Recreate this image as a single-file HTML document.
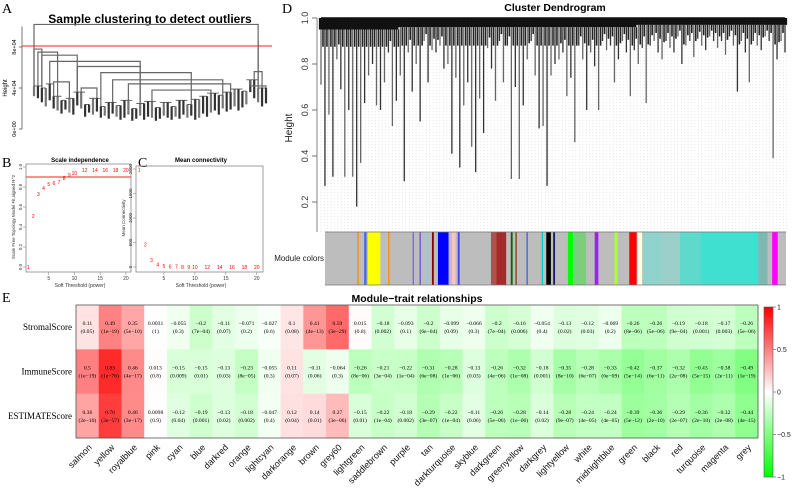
<!DOCTYPE html>
<html><head><meta charset="utf-8"><style>
html,body{margin:0;padding:0;background:#fff;}
svg{display:block;font-family:"Liberation Sans",sans-serif;}
</style></head><body>
<svg id="fig" width="794" height="491" viewBox="0 0 794 491" xmlns="http://www.w3.org/2000/svg">
<defs>
<linearGradient id="cbar" x1="0" y1="0" x2="0" y2="1">
<stop offset="0" stop-color="#ff0000"/><stop offset="0.5" stop-color="#ffffff"/><stop offset="1" stop-color="#00ff00"/>
</linearGradient>
<pattern id="dots" width="3.4" height="3" patternUnits="userSpaceOnUse"><rect x="1" y="0" width="0.6" height="1.2" fill="#d8d8d8"/></pattern>
</defs>
<g id="pA"></g>
<g id="pB"></g>
<g id="pC"></g>
<g id="pD"></g>
<g id="pE"></g>
</svg>
<script>
// ---------- data ----------
const aLeafBottom = [3.2,3.0,2.6,2.2,2.8,2.0,1.8,1.5,1.9,1.6,1.4,2.3,2.0,1.2,1.6,1.4,1.7,1.1,1.3,1.0,1.5,1.2,0.9,1.1,1.4,0.8,1.0,1.3,0.9,1.2,1.1,0.8,1.0,1.3,1.1,0.9,1.2,1.0,1.4,1.1,1.3,0.9,1.1,1.5,1.2,1.6,1.8,1.4,2.0,1.7,1.9,2.2,1.8,2.1,2.4,3.6,3.0,2.6,2.2,2.5];
const aLeafTop = [4.2,4.2,4.0,4.0,4.4,3.2,3.2,2.8,2.8,3.0,3.0,3.6,3.6,2.4,2.4,3.0,3.0,2.2,2.2,2.6,2.6,2.3,2.3,2.8,2.8,2.0,2.0,2.5,2.5,2.7,2.7,2.1,2.1,2.6,2.6,2.2,2.2,2.8,2.8,2.4,2.4,2.9,2.9,3.2,3.2,3.5,3.5,3.3,3.3,3.6,3.6,3.9,3.9,3.7,3.7,4.8,4.8,4.0,4.0,4.0];
const aMerges = [[10.2,0,57],[7.8,0,2],[7.5,1,6],[7.2,2,11],[6.6,4,27],[6.1,11,27],[5.5,17,40],[4.8,20,48],[4.4,24,50],[3.8,30,45],[8.6,57,57],[5.6,56,58],[4.2,55,59],[4.6,5,9],[4.0,12,16]];
const aCut = 8.1;
const bPowers = [1,2,3,4,5,6,7,8,9,10,12,14,16,18,20];
const bR2 = [0.0,0.51,0.73,0.79,0.83,0.84,0.85,0.89,0.92,0.94,0.97,0.97,0.97,0.97,0.97];
const bCut = 0.9;
const cK = [1990,460,140,50,20,8,6,5,4,4,3,3,3,3,3];
const dLeafBottom = [0.71,0.27,0.58,0.31,0.82,0.69,0.31,0.6,0.31,0.18,0.37,0.63,0.75,0.8,0.62,0.6,0.72,0.85,0.53,0.64,
0.75,0.29,0.85,0.68,0.8,0.55,0.9,0.72,0.86,0.85,0.88,0.78,0.8,0.41,0.74,0.35,0.62,0.72,0.44,0.33,
0.65,0.5,0.87,0.78,0.64,0.9,0.72,0.88,0.3,0.7,0.3,0.62,0.82,0.9,0.75,0.52,0.53,0.27,0.75,0.8,
0.82,0.85,0.66,0.74,0.46,0.88,0.82,0.6,0.85,0.79,0.6,0.9,0.86,0.88,0.72,0.82,0.9,0.85,0.66,0.86,
0.8,0.87,0.63,0.88,0.9,0.85,0.82,0.9,0.87,0.85,0.92,0.8,0.88,0.9,0.83,0.91,0.88,0.86,0.92,0.9,
0.87,0.9,0.84,0.92,0.88,0.68,0.9,0.85,0.72,0.9,0.88,0.86,0.92,0.9,0.39,0.82,0.9,0.85];
const dGroupTop = [0.95,0.96,0.96,0.96,0.97,0.97];
const dModules = [[0.07,0.073,"#ff8c00"],[0.085,0.09,"#4169e1"],[0.093,0.12,"#ffff00"],[0.137,0.14,"#ff8c00"],[0.19,0.193,"#7b68ee"],[0.205,0.208,"#6a5acd"],[0.22,0.223,"#87ceeb"],[0.232,0.236,"#8b0000"],[0.245,0.268,"#0000ff"],[0.275,0.283,"#ffc0cb"],[0.288,0.292,"#4040ff"],[0.36,0.372,"#b05050"],[0.372,0.393,"#a52a2a"],[0.403,0.407,"#006400"],[0.413,0.416,"#8b4513"],[0.437,0.44,"#4169e1"],[0.47,0.473,"#00ced1"],[0.48,0.49,"#000000"],[0.495,0.499,"#191970"],[0.527,0.538,"#00ff00"],[0.54,0.566,"#7ccd7c"],[0.585,0.593,"#a020f0"],[0.628,0.635,"#adff2f"],[0.66,0.676,"#ff0000"],[0.678,0.688,"#ffffe0"],[0.69,0.73,"#8fd3cc"],[0.73,0.77,"#9ccfc9"],[0.77,0.815,"#5fd9cc"],[0.815,0.94,"#40e0d0"],[0.94,0.96,"#7fb8b0"],[0.97,0.982,"#ff00ff"]];
const eModules = ["salmon","yellow","royalblue","pink","cyan","blue","darkred","orange","lightcyan","darkorange","brown","grey60","lightgreen","saddlebrown","purple","tan","darkturquoise","skyblue","darkgreen","greenyellow","darkgrey","lightyellow","white","midnightblue","green","black","red","turquoise","magenta","grey"];
const eTraits = ["StromalScore","ImmuneScore","ESTIMATEScore"];
const eStromal = [0.11,0.49,0.35,0.0031,-0.055,-0.2,-0.11,-0.071,-0.027,0.1,0.41,0.59,0.015,-0.18,-0.093,-0.2,-0.099,-0.066,-0.2,-0.16,-0.054,-0.13,-0.12,-0.069,-0.26,-0.26,-0.19,-0.18,-0.17,-0.26];
const eStromalP = ["0.05","1e\u221219","5e\u221210","1","0.3","7e\u221204","0.07","0.2","0.6","0.08","4e\u221213","3e\u221229","0.8","0.002","0.1","6e\u221204","0.09","0.3","7e\u221204","0.006","0.4","0.02","0.03","0.2","8e\u221206","5e\u221206","9e\u221204","0.001","0.003","5e\u221206"];
const eImmune = [0.5,0.83,0.46,0.013,-0.15,-0.15,-0.13,-0.23,-0.055,0.11,-0.11,-0.064,-0.26,-0.21,-0.22,-0.31,-0.28,-0.13,-0.26,-0.32,-0.18,-0.35,-0.28,-0.33,-0.42,-0.37,-0.32,-0.43,-0.38,-0.49];
const eImmuneP = ["1e\u221219","1e\u221276","4e\u221217","0.8","0.009","0.01","0.03","8e\u221205","0.3","0.07","0.06","0.3","8e\u221206","3e\u221204","1e\u221204","6e\u221208","1e\u221206","0.03","4e\u221206","1e\u221208","0.001","8e\u221210","6e\u221207","6e\u221209","5e\u221214","6e\u221211","2e\u221208","5e\u221215","2e\u221211","1e\u221219"];
const eEstimate = [0.36,0.76,0.46,0.0098,-0.12,-0.19,-0.13,-0.18,-0.047,0.12,0.14,0.27,-0.15,-0.22,-0.18,-0.29,-0.22,-0.11,-0.26,-0.28,-0.14,-0.28,-0.24,-0.24,-0.39,-0.36,-0.29,-0.36,-0.32,-0.44];
const eEstimateP = ["2e\u221210","2e\u221257","3e\u221217","0.9","0.04","0.001","0.02","0.002","0.4","0.04","0.01","3e\u221206","0.01","1e\u221204","0.002","3e\u221207","1e\u221204","0.06","5e\u221206","1e\u221206","0.02","9e\u221207","4e\u221205","4e\u221205","5e\u221212","2e\u221210","2e\u221207","2e\u221210","2e\u221208","4e\u221215"];
const cbTicks = [1,0.5,0,-0.5,-1];

const NS="http://www.w3.org/2000/svg";
function mk(parent,tag,attrs,text){const e=document.createElementNS(NS,tag);for(const k in attrs)e.setAttribute(k,attrs[k]);if(text!==undefined)e.textContent=text;parent.appendChild(e);return e;}

// ---------- Panel A ----------
(function(){
const g=document.getElementById('pA');
const y=v=>129-v*10.25, x=i=>34+i*(232/59);
let t;
t=mk(g,'text',{x:2,y:13,'font-family':'Liberation Serif,serif','font-size':14});t.textContent='A';

t=mk(g,'text',{x:150,y:23,'font-size':12,'font-weight':'bold','text-anchor':'middle'},'Sample clustering to detect outliers');

const ax=mk(g,'line',{x1:22,y1:y(0),x2:22,y2:y(10),stroke:'#555','stroke-width':0.8});

[[0,'0e+00'],[4,'4e+04'],[8,'8e+04']].forEach(([v,l])=>{
 mk(g,'line',{x1:19,y1:y(v),x2:22,y2:y(v),stroke:'#555','stroke-width':0.8});
 const tl=mk(g,'text',{x:0,y:0,'font-size':5.5,'text-anchor':'middle',transform:`translate(16,${y(v)}) rotate(-90)`},l);
 
});
t=mk(g,'text',{x:0,y:0,'font-size':6,'text-anchor':'middle',transform:`translate(7,${y(4)}) rotate(-90)`},'Height');

aLeafBottom.forEach((b,i)=>{
 const l=mk(g,'line',{x1:x(i),y1:y(b),x2:x(i),y2:y(aLeafTop[i]),stroke:i%3?'#333':'#777','stroke-width':2.2});
 
 if(i>0){const pt=Math.max(aLeafTop[i],aLeafTop[i-1]);mk(g,'line',{x1:x(i-1),y1:y(pt),x2:x(i),y2:y(pt),stroke:'#444','stroke-width':0.8});}
});
aMerges.forEach(([h,a,b])=>{
 const l=mk(g,'path',{d:`M${x(a)},${y(aLeafTop[a])}V${y(h)}H${x(b)}V${y(aLeafTop[b])}`,fill:'none',stroke:'#666','stroke-width':1.2});
 
});
const cut=mk(g,'line',{x1:22,y1:y(aCut),x2:272,y2:y(aCut),stroke:'#ff2020','stroke-width':1});

})();

// ---------- Panels B & C ----------
function scatterPanel(id,letter,lx,title,x0,x1,yt,yb,vals,vmax,ticks,tickFmt,ylab,cut){
 const g=document.getElementById(id);
 const X=p=>x0+(p-0)*((x1-x0)/21), Y=v=>yb-(v/vmax)*(yb-yt);
 let t=mk(g,'text',{x:lx,y:167,'font-family':'Liberation Serif,serif','font-size':14},letter);
 
 t=mk(g,'text',{x:(x0+x1)/2+3,y:162,'font-size':6,'font-weight':'bold','text-anchor':'middle'},title);
 
 const box=mk(g,'rect',{x:x0+3,y:yt-3,width:x1-x0-3,height:yb-yt+8,fill:'none',stroke:'#888','stroke-width':0.8});
 
 ticks.forEach(v=>{mk(g,'line',{x1:x0,y1:Y(v),x2:x0+3,y2:Y(v),stroke:'#888','stroke-width':0.6});
  const tl=mk(g,'text',{x:0,y:0,'font-size':4.5,'text-anchor':'middle',fill:'#333',transform:`translate(${x0-1},${Y(v)}) rotate(-90)`},tickFmt(v));
  });
 [5,10,15,20].forEach(p=>{mk(g,'line',{x1:X(p),y1:yb+5,x2:X(p),y2:yb+8,stroke:'#888','stroke-width':0.6});
  const tl=mk(g,'text',{x:X(p),y:yb+13,'font-size':5,'text-anchor':'middle',fill:'#333'},String(p));
  });
 t=mk(g,'text',{x:(x0+x1)/2+3,y:yb+20,'font-size':5,'text-anchor':'middle',fill:'#333'},'Soft Threshold (power)');
 
 t=mk(g,'text',{x:0,y:0,'font-size':4.5,'text-anchor':'middle',fill:'#333',transform:`translate(${x0-8},${(yt+yb)/2}) rotate(-90)`},ylab);
 
 if(cut!==null){const c=mk(g,'line',{x1:x0+3,y1:Y(cut),x2:x1,y2:Y(cut),stroke:'#ff2020','stroke-width':1});
  }
 bPowers.forEach((p,i)=>{const pt=mk(g,'text',{x:X(p),y:Y(vals[i])+2,'font-size':5,'text-anchor':'middle',fill:'#ff0000'},String(p));
  });
}
scatterPanel('pB','B',2,'Scale independence',23,131,167,267,bR2,1,[0,0.2,0.4,0.6,0.8,1.0],v=>v.toFixed(1),'Scale Free Topology Model Fit,signed R^2',bCut);
scatterPanel('pC','C',138,'Mean connectivity',133,263,169,267,cK,2000,[0,500,1000,1500,2000],v=>String(v),'Mean Connectivity',null);

// ---------- Panel D ----------
(function(){
const g=document.getElementById('pD');
const top=18,bot=232,x0=321,x1=785;
const Y=v=>top+(1-v)*230, n=dLeafBottom.length, X=i=>x0+i*((x1-x0)/(n-1));
const sp=(x1-x0)/(n-1);
let t=mk(g,'text',{x:282,y:13,'font-family':'Liberation Serif,serif','font-size':14},'D');

t=mk(g,'text',{x:555,y:11,'font-size':10.5,'font-weight':'bold','text-anchor':'middle'},'Cluster Dendrogram');

mk(g,'rect',{x:x0-2,y:top+10,width:x1-x0+4,height:bot-top-10,fill:'url(#dots)'});
const ax=mk(g,'line',{x1:317,y1:top,x2:317,y2:bot,stroke:'#999','stroke-width':1.2});

[0.2,0.4,0.6,0.8,1.0].forEach(v=>{mk(g,'line',{x1:312,y1:Y(v),x2:317,y2:Y(v),stroke:'#555','stroke-width':0.8});
 const tl=mk(g,'text',{x:0,y:0,'font-size':9,'text-anchor':'middle',fill:'#333',transform:`translate(308,${Y(v)}) rotate(-90)`},v.toFixed(1));
 });
t=mk(g,'text',{x:0,y:0,'font-size':10,'text-anchor':'middle',fill:'#222',transform:`translate(292,128) rotate(-90)`},'Height');

dLeafBottom.forEach((b,i)=>{
 const gt=dGroupTop[Math.min(5,Math.floor(i/20))];
 const l1=mk(g,'line',{x1:X(i),y1:Y(1),x2:X(i),y2:Y(Math.max(gt,b)),stroke:'#111','stroke-width':sp+0.3});
 
 if(b<gt){const l2=mk(g,'line',{x1:X(i),y1:Y(gt),x2:X(i),y2:Y(b),stroke:i%2?'#333':'#666','stroke-width':1.3});
 }
 // secondary sub-branches between leaves
 if(i<n-1){const mid=(gt+Math.max(b,0.8))/2;
  const l3=mk(g,'line',{x1:X(i)+sp/2,y1:Y(gt),x2:X(i)+sp/2,y2:Y(mid),stroke:'#222','stroke-width':1.6});
  }
});
mk(g,'line',{x1:x0,y1:Y(1),x2:x1,y2:Y(1),stroke:'#111','stroke-width':1.5});
const bx0=325,bx1=786,by=232,bh=53;
const bar=mk(g,'rect',{x:bx0,y:by,width:bx1-bx0,height:bh,fill:'#bdbdbd'});

dModules.forEach(([a,b,c])=>{const r=mk(g,'rect',{x:bx0+a*(bx1-bx0),y:by,width:Math.max(0.8,(b-a)*(bx1-bx0)),height:bh,fill:c});
 });
mk(g,'line',{x1:bx0,y1:by,x2:bx1,y2:by,stroke:'#777','stroke-width':0.8});
mk(g,'line',{x1:bx0,y1:by+bh,x2:bx1,y2:by+bh,stroke:'#777','stroke-width':0.8});
t=mk(g,'text',{x:324,y:261,'font-size':8,'text-anchor':'end',fill:'#222'},'Module colors');

})();

// ---------- Panel E ----------
(function(){
const g=document.getElementById('pE');
const x0=76,x1=758,y0=305,y1=438,nc=eModules.length,cw=(x1-x0)/nc,rh=(y1-y0)/3;
const col=v=>{if(v>=0){const c=Math.round(255*(1-v));return `rgb(255,${c},${c})`;}const c=Math.round(255*(1+v));return `rgb(${c},255,${c})`;};
let t=mk(g,'text',{x:2,y:302,'font-family':'Liberation Serif,serif','font-size':14},'E');

t=mk(g,'text',{x:417,y:302,'font-size':10.5,'font-weight':'bold','text-anchor':'middle'},'Module\u2212trait relationships');

const rows=[[eStromal,eStromalP],[eImmune,eImmuneP],[eEstimate,eEstimateP]];
rows.forEach(([vals,ps],r)=>{
 const rl=mk(g,'text',{x:72,y:y0+rh*(r+0.5)+3,'font-family':'Liberation Serif,serif','font-size':9,'text-anchor':'end'},eTraits[r]);
 
 vals.forEach((v,c)=>{
  const cell=mk(g,'rect',{x:x0+c*cw,y:y0+r*rh,width:cw+0.3,height:rh+0.3,fill:col(v)});
  
  const cx=x0+(c+0.5)*cw, cy=y0+(r+0.5)*rh;
  const tv=mk(g,'text',{x:cx,y:cy-2,'font-family':'Liberation Serif,serif','font-size':5.6,'text-anchor':'middle'},String(v).replace('-','\u2212'));
  
  const tp=mk(g,'text',{x:cx,y:cy+6,'font-family':'Liberation Serif,serif','font-size':5.6,'text-anchor':'middle'},'('+ps[c]+')');
  
 });
});
const fr=mk(g,'rect',{x:x0,y:y0,width:x1-x0,height:y1-y0,fill:'none',stroke:'#555','stroke-width':0.8});

eModules.forEach((m,c)=>{const cx=x0+(c+0.5)*cw;
 const lb=mk(g,'text',{x:0,y:0,'font-size':9,'text-anchor':'end',fill:'#111',transform:`translate(${cx+5},${y1+10}) rotate(-45)`},m);
 });
const cbx=764,cby0=307,cby1=477,cbY=v=>cby0+(1-v)/2*(cby1-cby0);
const cb=mk(g,'rect',{x:cbx,y:cby0,width:9,height:cby1-cby0,fill:'url(#cbar)',stroke:'#555','stroke-width':0.6});

cbTicks.forEach(v=>{mk(g,'line',{x1:cbx+9,y1:cbY(v),x2:cbx+12,y2:cbY(v),stroke:'#555','stroke-width':0.6});
 const tl=mk(g,'text',{x:cbx+13,y:cbY(v)+2.5,'font-size':7,fill:'#222'},String(v).replace('-','\u2212'));
 });
})();
</script>
</body></html>
